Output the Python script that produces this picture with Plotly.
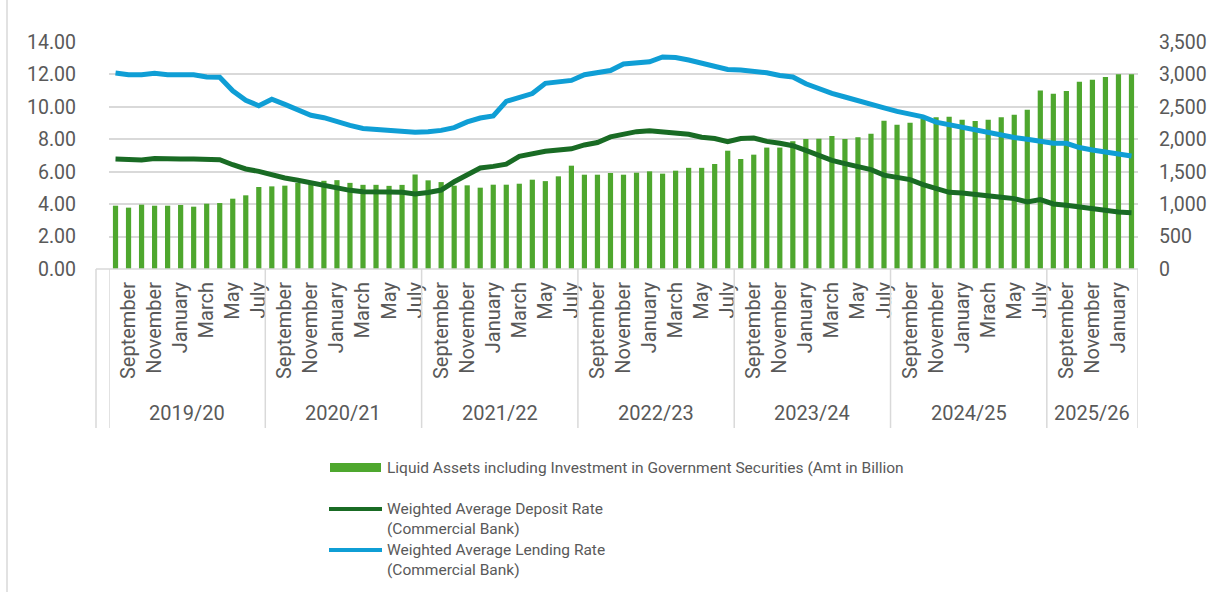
import plotly.graph_objects as go

# ---- data -------------------------------------------------------------
fiscal_years = ["2019/20", "2020/21", "2021/22", "2022/23", "2023/24", "2024/25", "2025/26"]
months_per_year = [12, 12, 12, 12, 12, 12, 7]

# every second month is labelled on the category axis (Sep, Nov, Jan, ...)
month_labels = [
    "September", "November", "January", "March", "May", "July",
    "September", "November", "January", "March", "May", "July",
    "September", "November", "January", "March", "May", "July",
    "September", "November", "January", "March", "May", "July",
    "September", "November", "January", "March", "May", "July",
    "September", "November", "January", "Mrach", "May", "July",
    "September", "November", "January",
]

# Liquid assets incl. investment in government securities (Rs. billion)
liquid_assets = [
    976, 946, 992, 976, 976, 987, 961, 1007, 1017, 1084, 1136, 1264,
    1274, 1285, 1327, 1330, 1360, 1370, 1328, 1298, 1298, 1282, 1297, 1457,
    1367, 1340, 1285, 1290, 1254, 1300, 1300, 1315, 1377, 1355, 1429, 1593,
    1454, 1454, 1480, 1454, 1485, 1506, 1470, 1516, 1560, 1560, 1619, 1824,
    1696, 1763, 1872, 1872, 1970, 2004, 2009, 2050, 2004, 2030, 2086, 2287,
    2225, 2256, 2318, 2338, 2348, 2302, 2282, 2302, 2338, 2379, 2456, 2754,
    2703, 2744, 2888, 2919, 2960, 3001, 3003,
]

# Weighted average deposit rate, commercial banks (%)
deposit_rate = [
    6.78, 6.74, 6.72, 6.82, 6.78, 6.78, 6.78, 6.77, 6.74, 6.43, 6.17, 6.02,
    5.78, 5.61, 5.47, 5.30, 5.14, 5.02, 4.85, 4.77, 4.73, 4.75, 4.73, 4.63,
    4.72, 4.87, 5.38, 5.82, 6.23, 6.33, 6.47, 6.95, 7.11, 7.26, 7.34, 7.41,
    7.65, 7.80, 8.15, 8.30, 8.47, 8.53, 8.46, 8.38, 8.31, 8.13, 8.05, 7.85,
    8.05, 8.08, 7.87, 7.75, 7.60, 7.31, 7.00, 6.70, 6.50, 6.33, 6.13, 5.79,
    5.65, 5.51, 5.20, 4.93, 4.73, 4.69, 4.58, 4.48, 4.42, 4.34, 4.13, 4.28,
    4.01, 3.93, 3.82, 3.70, 3.62, 3.51, 3.47,
]

# Weighted average lending rate, commercial banks (%)
lending_rate = [
    12.09, 11.98, 11.98, 12.07, 11.98, 11.98, 11.98, 11.84, 11.83, 10.99, 10.41, 10.07,
    10.47, 10.15, 9.80, 9.48, 9.33, 9.08, 8.86, 8.67, 8.60, 8.54, 8.49, 8.44,
    8.46, 8.55, 8.72, 9.07, 9.31, 9.44, 10.34, 10.62, 10.82, 11.45, 11.57, 11.63,
    11.98, 12.11, 12.24, 12.64, 12.74, 12.78, 13.08, 13.04, 12.89, 12.70, 12.57, 12.31,
    12.27, 12.22, 12.10, 11.93, 11.84, 11.42, 11.10, 10.83, 10.61, 10.40, 10.22, 9.94,
    9.72, 9.55, 9.38, 9.06, 8.90, 8.70, 8.54, 8.36, 8.20, 8.11, 8.00, 7.85,
    7.75, 7.75, 7.49, 7.34, 7.23, 7.10, 6.97,
]

series_names = [
    "Liquid Assets including Investment in Government Securities (Amt in Billion",
    "Weighted Average Deposit Rate<br>(Commercial Bank)",
    "Weighted Average Lending Rate<br>(Commercial Bank)",
]

# ---- styling ------------------------------------------------------------
W, H = 1208, 592
ML, MR, MT, MB = 109, 70, 42, 323
PW, PH = W - ML - MR, H - MT - MB
FONT = "Roboto"
TXT = "#595959"
GRID = "#D9D9D9"
BAR_GREEN = "#4EA72E"
DEP_GREEN = "#196B24"
LEND_BLUE = "#0F9ED5"
AXIS_SIZE = 19.5
CAT_SIZE = 20
LEGEND_SIZE = 15.5


def fx(px):
    """pixel x -> paper x"""
    return (px - ML) / PW


def fy(py):
    """pixel y -> paper y"""
    return (H - MB - py) / PH


n = len(liquid_assets)
idx = list(range(n))

fig = go.Figure()
fig.add_trace(go.Bar(
    x=idx, y=liquid_assets, name=series_names[0],
    marker=dict(color=BAR_GREEN, line=dict(width=0)),
    yaxis="y", showlegend=False,
))
fig.add_trace(go.Scatter(
    x=idx, y=deposit_rate, name=series_names[1], mode="lines",
    line=dict(color=DEP_GREEN, width=5), yaxis="y2", showlegend=False,
))
fig.add_trace(go.Scatter(
    x=idx, y=lending_rate, name=series_names[2], mode="lines",
    line=dict(color=LEND_BLUE, width=5), yaxis="y2", showlegend=False,
))

shapes = []
annotations = []

# fiscal-year group separators and labels under the month labels
start = 0
bounds = [-0.5]
for year, size in zip(fiscal_years, months_per_year):
    annotations.append(dict(
        x=start + size / 2 - 0.5, y=fy(413), xref="x", yref="paper",
        text=year, showarrow=False, xanchor="center", yanchor="middle",
        font=dict(family=FONT, size=CAT_SIZE, color=TXT),
    ))
    start += size
    bounds.append(start - 0.5)
for b in bounds:
    shapes.append(dict(type="line", xref="x", yref="paper", x0=b, x1=b,
                       y0=0, y1=fy(428), line=dict(color=GRID, width=1.5)))
# outer edge of the category table and its base line
shapes.append(dict(type="line", xref="paper", yref="paper", x0=fx(96), x1=fx(96),
                   y0=0, y1=fy(428), line=dict(color=GRID, width=1.5)))
shapes.append(dict(type="line", xref="paper", yref="paper", x0=fx(96), x1=1,
                   y0=0, y1=0, line=dict(color=GRID, width=1.5)))
# chart frame edge
shapes.append(dict(type="line", xref="paper", yref="paper", x0=fx(7), x1=fx(7),
                   y0=fy(0), y1=fy(H), line=dict(color=GRID, width=1.5)))

# legend block
shapes.append(dict(type="rect", xref="paper", yref="paper",
                   x0=fx(330), x1=fx(381), y0=fy(463), y1=fy(472),
                   line=dict(width=0), fillcolor=BAR_GREEN))
shapes.append(dict(type="line", xref="paper", yref="paper",
                   x0=fx(329), x1=fx(382), y0=fy(509), y1=fy(509),
                   line=dict(color=DEP_GREEN, width=4)))
shapes.append(dict(type="line", xref="paper", yref="paper",
                   x0=fx(329), x1=fx(382), y0=fy(550), y1=fy(550),
                   line=dict(color=LEND_BLUE, width=4)))
legend_rows = [(series_names[0], 467.5), (series_names[1], 518.5), (series_names[2], 559.5)]
for text, cy in legend_rows:
    annotations.append(dict(
        x=fx(385), y=fy(cy), xref="paper", yref="paper", text=text,
        showarrow=False, xanchor="left", yanchor="middle", align="left",
        font=dict(family=FONT, size=LEGEND_SIZE, color=TXT),
    ))

tick_positions = list(range(1, n, 2))

fig.update_layout(
    width=W, height=H,
    margin=dict(l=ML, r=MR, t=MT, b=MB, pad=0, autoexpand=False),
    paper_bgcolor="white", plot_bgcolor="white",
    font=dict(family=FONT, color=TXT),
    bargap=0.6,
    showlegend=False,
    xaxis=dict(
        range=[-0.5, n - 0.5], tickmode="array",
        tickvals=tick_positions, ticktext=month_labels,
        tickangle=-90, ticks="", ticklabelstandoff=8, automargin=False,
        tickfont=dict(family=FONT, size=CAT_SIZE, color=TXT),
        showgrid=False, zeroline=False, showline=False,
    ),
    yaxis=dict(
        side="right", range=[0, 3500], dtick=500, tickformat=",d",
        showgrid=True, gridcolor=GRID, gridwidth=1.5, automargin=False,
        zeroline=False, showline=False, ticks="", ticklabelstandoff=20,
        tickfont=dict(family=FONT, size=AXIS_SIZE, color=TXT),
    ),
    yaxis2=dict(
        overlaying="y", side="left", range=[0, 14], dtick=2, tickformat=".2f",
        showgrid=False, zeroline=False, showline=False, ticks="",
        ticklabelstandoff=32, automargin=False,
        tickfont=dict(family=FONT, size=AXIS_SIZE, color=TXT),
    ),
    shapes=shapes,
    annotations=annotations,
)

fig.write_html("out.html")
